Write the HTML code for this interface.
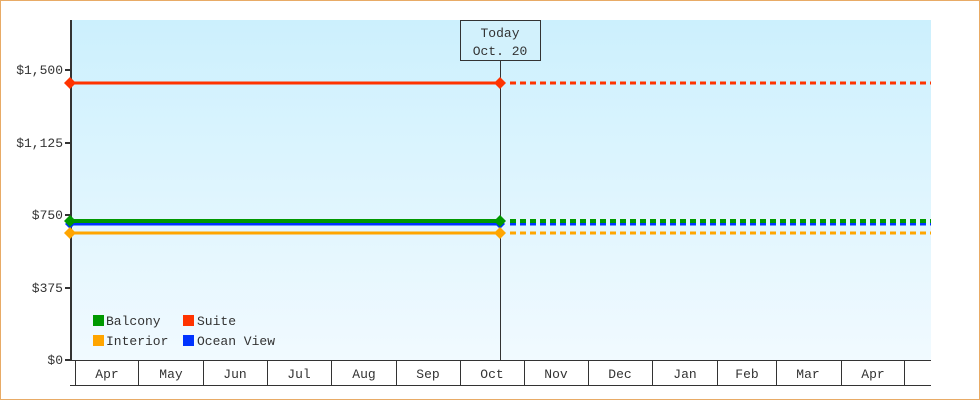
<!DOCTYPE html>
<html><head><style>
html,body{margin:0;padding:0;background:#fff}
svg{display:block}
text{font-family:"Liberation Mono",monospace;font-size:13px;fill:#333}
</style></head><body>
<svg width="980" height="400" xmlns="http://www.w3.org/2000/svg">
<defs><linearGradient id="g" x1="0" y1="0" x2="0" y2="1"><stop offset="0" stop-color="#ccf0fd"/><stop offset="1" stop-color="#f1faff"/></linearGradient></defs>
<rect x="0.5" y="0.5" width="979" height="399" fill="#fff" stroke="#e8ab66"/>
<rect x="71" y="20" width="860" height="340" fill="url(#g)"/>
<line x1="71" y1="20" x2="71" y2="361" stroke="#333" stroke-width="2"/>
<g stroke="#333" stroke-width="2">
<line x1="65" y1="70" x2="71" y2="70"/><line x1="65" y1="143" x2="71" y2="143"/><line x1="65" y1="215" x2="71" y2="215"/><line x1="65" y1="288" x2="71" y2="288"/><line x1="65" y1="360" x2="71" y2="360"/>
</g>
<g text-anchor="end">
<text x="63" y="74">$1,500</text><text x="63" y="147">$1,125</text><text x="63" y="219">$750</text><text x="63" y="292">$375</text><text x="63" y="364">$0</text>
</g>
<line x1="70" y1="360.5" x2="931" y2="360.5" stroke="#333"/>
<line x1="70" y1="385.5" x2="931" y2="385.5" stroke="#333"/>
<g stroke="#333">
<line x1="75.5" y1="360" x2="75.5" y2="385"/><line x1="138.5" y1="360" x2="138.5" y2="385"/><line x1="203.5" y1="360" x2="203.5" y2="385"/><line x1="267.5" y1="360" x2="267.5" y2="385"/><line x1="331.5" y1="360" x2="331.5" y2="385"/><line x1="396.5" y1="360" x2="396.5" y2="385"/><line x1="460.5" y1="360" x2="460.5" y2="385"/><line x1="524.5" y1="360" x2="524.5" y2="385"/><line x1="588.5" y1="360" x2="588.5" y2="385"/><line x1="652.5" y1="360" x2="652.5" y2="385"/><line x1="717.5" y1="360" x2="717.5" y2="385"/><line x1="776.5" y1="360" x2="776.5" y2="385"/><line x1="841.5" y1="360" x2="841.5" y2="385"/><line x1="904.5" y1="360" x2="904.5" y2="385"/>
</g>
<g text-anchor="middle">
<text x="107" y="378">Apr</text><text x="171" y="378">May</text><text x="235" y="378">Jun</text><text x="299" y="378">Jul</text><text x="364" y="378">Aug</text><text x="428" y="378">Sep</text><text x="492" y="378">Oct</text><text x="556" y="378">Nov</text><text x="620" y="378">Dec</text><text x="685" y="378">Jan</text><text x="747" y="378">Feb</text><text x="808" y="378">Mar</text><text x="873" y="378">Apr</text>
</g>
<line x1="500.5" y1="60" x2="500.5" y2="360" stroke="#333"/>
<rect x="460.5" y="20.5" width="80" height="40" fill="#d2f1fc" stroke="#333"/>
<text x="500" y="37" text-anchor="middle">Today</text>
<text x="500" y="55" text-anchor="middle">Oct. 20</text>
<line x1="71" y1="83" x2="500" y2="83" stroke="#ff3300" stroke-width="3"/>
<line x1="510" y1="83" x2="931" y2="83" stroke="#ff3300" stroke-width="3" stroke-dasharray="6,4"/>
<line x1="71" y1="224" x2="500" y2="224" stroke="#0033ff" stroke-width="3"/>
<line x1="510" y1="224" x2="931" y2="224" stroke="#0033ff" stroke-width="3" stroke-dasharray="6,4"/>
<line x1="71" y1="221" x2="500" y2="221" stroke="#009900" stroke-width="4"/>
<line x1="510" y1="221" x2="931" y2="221" stroke="#009900" stroke-width="4" stroke-dasharray="6,4"/>
<line x1="71" y1="233" x2="500" y2="233" stroke="#ffa500" stroke-width="3"/>
<line x1="510" y1="233" x2="931" y2="233" stroke="#ffa500" stroke-width="3" stroke-dasharray="6,4"/>
<g>
<polygon points="70,77 76,83 70,89 64,83" fill="#ff3300"/><polygon points="500,77 506,83 500,89 494,83" fill="#ff3300"/>
<polygon points="70,219 75,224 70,229 65,224" fill="#0033ff"/><polygon points="500,219 505,224 500,229 495,224" fill="#0033ff"/>
<polygon points="70,215 76,221 70,227 64,221" fill="#009900"/><polygon points="500,215 506,221 500,227 494,221" fill="#009900"/>
<polygon points="70,227 76,233 70,239 64,233" fill="#ffa500"/><polygon points="500,227 506,233 500,239 494,233" fill="#ffa500"/>
</g>
<rect x="93" y="315" width="11" height="11" fill="#009900"/><text x="106" y="325">Balcony</text>
<rect x="183" y="315" width="11" height="11" fill="#ff3300"/><text x="197" y="325">Suite</text>
<rect x="93" y="335" width="11" height="11" fill="#ffa500"/><text x="106" y="345">Interior</text>
<rect x="183" y="335" width="11" height="11" fill="#0033ff"/><text x="197" y="345">Ocean View</text>
</svg>
</body></html>
